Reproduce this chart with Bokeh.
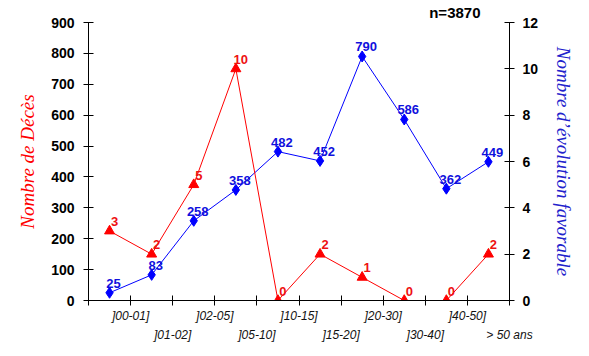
from bokeh.plotting import figure
from bokeh.models import Range1d, LinearAxis, FixedTicker, ColumnDataSource, LabelSet, Title
from bokeh.core.properties import value
from bokeh.embed import file_html
from bokeh.resources import INLINE

categories = ["]00-01]", "]01-02]", "]02-05]", "]05-10]", "]10-15]",
              "]15-20]", "]20-30]", "]30-40]", "]40-50]", "> 50 ans"]
favorable = [25, 83, 258, 358, 482, 452, 790, 586, 362, 449]
deces = [3, 2, 5, 10, 0, 2, 1, 0, 0, 2]
n_total = 3870
left_ticks = list(range(0, 901, 100))
right_ticks = list(range(0, 13, 2))

RED = "#FF0000"
BLUE = "#0000FF"
SANS = "Liberation Sans"
SERIF = "Liberation Serif"

xc = [i + 0.5 for i in range(len(categories))]

p = figure(frame_width=421, frame_height=278,
           x_range=Range1d(0, len(categories)), y_range=Range1d(0, 900),
           output_backend="svg", toolbar_location=None,
           x_axis_location=None, y_axis_location=None,
           min_border_left=88, min_border_right=74,
           min_border_top=22, min_border_bottom=50)
p.extra_y_ranges = {"right": Range1d(0, 12)}
p.outline_line_color = None
p.xgrid.visible = False
p.ygrid.visible = False
p.background_fill_color = "white"
p.border_fill_color = "white"

p.add_layout(Title(text=f"n={n_total}", align="right", offset=29, standoff=3,
                   vertical_align="bottom",
                   text_font=SANS, text_font_style="bold", text_font_size="15px",
                   text_color="black"), "above")


def style_axis(ax):
    ax.axis_line_color = "black"
    ax.major_tick_line_color = "black"
    ax.major_tick_in = 5
    ax.major_tick_out = 5
    ax.minor_tick_line_color = None
    ax.major_label_text_font = SANS
    ax.major_label_text_font_style = "bold"
    ax.major_label_text_font_size = "14px"
    ax.major_label_text_color = "black"


left = LinearAxis(ticker=FixedTicker(ticks=left_ticks), axis_label="Nombre de Décès")
style_axis(left)
left.major_label_standoff = 9
left.axis_label_text_font = SERIF
left.axis_label_text_font_style = "italic"
left.axis_label_text_font_size = "19px"
left.axis_label_text_color = RED
left.axis_label_standoff = 10
p.add_layout(left, "left")

right = LinearAxis(y_range_name="right", ticker=FixedTicker(ticks=right_ticks),
                   axis_label="Nombre d’évolution favorable")
style_axis(right)
right.major_label_standoff = 8
right.axis_label_text_font = SERIF
right.axis_label_text_font_style = "italic"
right.axis_label_text_font_size = "19px"
right.axis_label_text_color = "#2222CC"
right.axis_label_standoff = 12
p.add_layout(right, "right")


def overrides(parity):
    d = {}
    for i in range(len(categories) + 1):
        lab = categories[i - 1] if (i >= 1 and i % 2 == parity) else ""
        d[i] = lab
        d[str(i)] = lab
    return d


bx1 = LinearAxis(ticker=FixedTicker(ticks=list(range(len(categories) + 1))),
                 major_label_overrides=overrides(1))
style_axis(bx1)
bx1.major_label_text_font_style = "italic"
bx1.major_label_text_font_size = "12px"
bx1.major_label_text_color = "#111111"
bx1.major_label_standoff = 3
p.add_layout(bx1, "below")

bx2 = LinearAxis(ticker=FixedTicker(ticks=list(range(2, len(categories) + 1, 2))),
                 major_label_overrides=overrides(0))
style_axis(bx2)
bx2.axis_line_color = None
bx2.major_tick_line_color = None
bx2.major_tick_in = 0
bx2.major_tick_out = 0
bx2.major_label_text_font_style = "italic"
bx2.major_label_text_font_size = "12px"
bx2.major_label_text_color = "#111111"
bx2.major_label_standoff = 2
p.add_layout(bx2, "below")

src_b = ColumnDataSource(dict(x=xc, y=favorable, t=[str(v) for v in favorable]))
src_r = ColumnDataSource(dict(x=xc, y=deces, t=[str(v) for v in deces]))

p.line("x", "y", source=src_b, line_color=BLUE, line_width=1)
p.scatter("x", "y", source=src_b, marker="diamond", size=11,
          fill_color=BLUE, line_color=BLUE)
p.line("x", "y", source=src_r, line_color=RED, line_width=1, y_range_name="right")
p.scatter("x", "y", source=src_r, marker="triangle", size=10,
          fill_color=RED, line_color=RED, y_range_name="right")

p.add_layout(LabelSet(x="x", y="y", text="t", source=src_b,
                      text_align="center", text_baseline="bottom",
                      x_offset=4, y_offset=5,
                      text_font=value(SANS), text_font_style="bold", text_font_size="13px",
                      text_color="#1010DD"))
p.add_layout(LabelSet(x="x", y="y", text="t", source=src_r, y_range_name="right",
                      text_align="center", text_baseline="bottom",
                      x_offset=5, y_offset=5,
                      text_font=value(SANS), text_font_style="bold", text_font_size="13px",
                      text_color="#EE1111"))

open("out.html", "w").write(file_html(p, INLINE))
